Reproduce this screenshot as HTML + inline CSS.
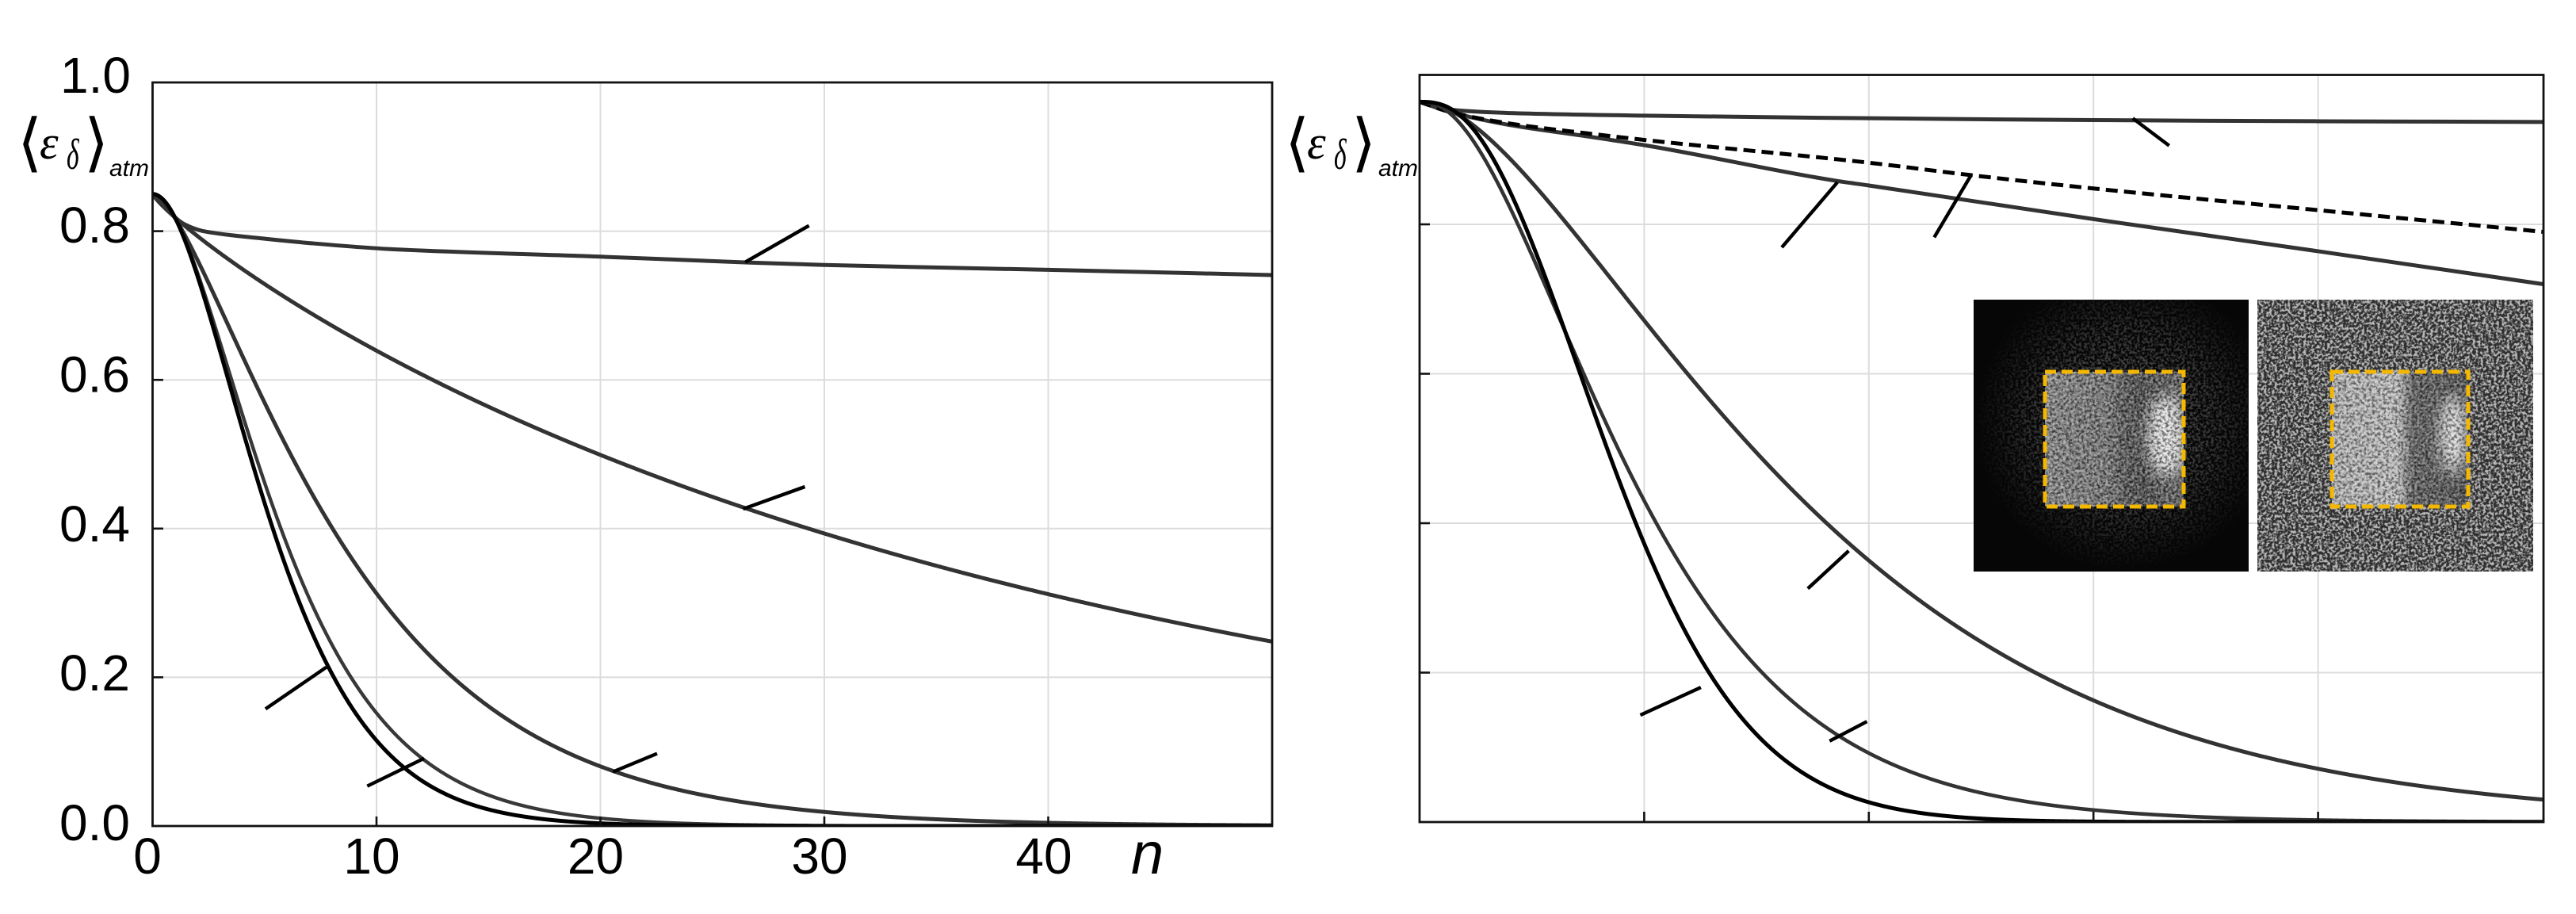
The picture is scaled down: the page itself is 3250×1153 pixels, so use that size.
<!DOCTYPE html>
<html><head><meta charset="utf-8">
<style>
html,body{margin:0;padding:0;background:#fff;}
svg{display:block;}
.tl{font-family:"Liberation Sans",Arial,sans-serif;font-size:64px;fill:#000;}
</style></head>
<body>
<svg id="s" width="3250" height="1153" viewBox="0 0 3250 1153" xmlns="http://www.w3.org/2000/svg">
<defs>
 <clipPath id="cl"><rect x="192.5" y="104" width="1412.5" height="938"/></clipPath>
 <clipPath id="cr"><rect x="1791" y="94.5" width="1418" height="942.5"/></clipPath>
 <filter id="wsp" x="0" y="0" width="1" height="1" color-interpolation-filters="sRGB">
  <feTurbulence type="fractalNoise" baseFrequency="0.3" numOctaves="2" seed="4"/>
  <feColorMatrix type="matrix" values="0 0 0 0 1  0 0 0 0 1  0 0 0 0 1  4.5 0 0 0 -1.9"/>
 </filter>
 <filter id="bsp" x="0" y="0" width="1" height="1" color-interpolation-filters="sRGB">
  <feTurbulence type="fractalNoise" baseFrequency="0.28" numOctaves="2" seed="11"/>
  <feColorMatrix type="matrix" values="0 0 0 0 0  0 0 0 0 0  0 0 0 0 0  4.5 0 0 0 -1.9"/>
 </filter>
 <filter id="blur" x="-1" y="-1" width="3" height="3"><feGaussianBlur stdDeviation="9"/></filter>
 <radialGradient id="haloG" cx="0.55" cy="0.45" r="0.55">
  <stop offset="0" stop-color="#fff" stop-opacity="1"/>
  <stop offset="0.6" stop-color="#888"/>
  <stop offset="1" stop-color="#000"/>
 </radialGradient>
 <mask id="mL"><rect x="2490" y="378" width="347" height="343" fill="url(#haloG)"/></mask>
 <linearGradient id="gLB" x1="0" x2="1" y1="0" y2="0">
  <stop offset="0" stop-color="#8c8c8c"/>
  <stop offset="0.45" stop-color="#7a7a7a"/>
  <stop offset="0.6" stop-color="#545454"/>
  <stop offset="0.72" stop-color="#4c4c4c"/>
  <stop offset="1" stop-color="#666"/>
 </linearGradient>
 <linearGradient id="gRB" x1="0" x2="1" y1="0" y2="0">
  <stop offset="0" stop-color="#b8b8b8"/>
  <stop offset="0.48" stop-color="#c2c2c2"/>
  <stop offset="0.6" stop-color="#5e5e5e"/>
  <stop offset="1" stop-color="#4e4e4e"/>
 </linearGradient>
 <clipPath id="cLB"><rect x="2580" y="469" width="175" height="170"/></clipPath>
 <clipPath id="cRB"><rect x="2942" y="469" width="172" height="170"/></clipPath>
</defs>
<rect width="3250" height="1153" fill="#fff"/>

<!-- LEFT GRID -->
<g stroke="#dcdcdc" stroke-width="2" fill="none">
 <line x1="475" y1="104" x2="475" y2="1042"/>
 <line x1="757.5" y1="104" x2="757.5" y2="1042"/>
 <line x1="1040" y1="104" x2="1040" y2="1042"/>
 <line x1="1322.5" y1="104" x2="1322.5" y2="1042"/>
 <line x1="192.5" y1="291.6" x2="1605" y2="291.6"/>
 <line x1="192.5" y1="479.2" x2="1605" y2="479.2"/>
 <line x1="192.5" y1="666.8" x2="1605" y2="666.8"/>
 <line x1="192.5" y1="854.4" x2="1605" y2="854.4"/>
</g>
<!-- RIGHT GRID -->
<g stroke="#dcdcdc" stroke-width="2" fill="none">
 <line x1="2074.4" y1="94.5" x2="2074.4" y2="1037"/>
 <line x1="2357.8" y1="94.5" x2="2357.8" y2="1037"/>
 <line x1="2641.2" y1="94.5" x2="2641.2" y2="1037"/>
 <line x1="2924.6" y1="94.5" x2="2924.6" y2="1037"/>
 <line x1="1791" y1="283" x2="3209" y2="283"/>
 <line x1="1791" y1="471.5" x2="3209" y2="471.5"/>
 <line x1="1791" y1="660" x2="3209" y2="660"/>
 <line x1="1791" y1="848.5" x2="3209" y2="848.5"/>
</g>

<!-- LEFT CURVES -->
<g clip-path="url(#cl)" fill="none" stroke-linejoin="round" stroke-linecap="round">
 <path id="cA" stroke="#333" stroke-width="5"/>
 <path id="cB" stroke="#333" stroke-width="5"/>
 <path id="cC" stroke="#333" stroke-width="5"/>
 <path id="cD" stroke="#383838" stroke-width="4.4"/>
 <path id="cE" stroke="#000" stroke-width="5"/>
</g>
<!-- RIGHT CURVES -->
<g clip-path="url(#cr)" fill="none" stroke-linejoin="round">
 <path id="r1" stroke="#333" stroke-width="5"/>
 <path id="r3" stroke="#333" stroke-width="5"/>
 <path id="r2" stroke="#000" stroke-width="5" stroke-dasharray="15 8"/>
 <path id="r4" stroke="#333" stroke-width="5"/>
 <path id="r5" stroke="#333" stroke-width="4.6"/>
 <path id="r6" stroke="#000" stroke-width="5"/>
</g>

<!-- LEADERS -->
<g stroke="#000" stroke-width="4.4" fill="none">
 <line x1="940.2" y1="330.7" x2="1020.7" y2="284.6"/>
 <line x1="937.6" y1="642" x2="1015.5" y2="614"/>
 <line x1="773.4" y1="973.6" x2="829" y2="950.6"/>
 <line x1="335" y1="894.3" x2="411.7" y2="841.7"/>
 <line x1="463.3" y1="991.7" x2="535" y2="956.7"/>

 <line x1="2690.8" y1="149.3" x2="2736.7" y2="183.8"/>
 <line x1="2248" y1="312.1" x2="2318.1" y2="230"/>
 <line x1="2440.3" y1="299.4" x2="2486.2" y2="222"/>
 <line x1="2280.8" y1="742.5" x2="2332.4" y2="694.9"/>
 <line x1="2308.3" y1="934.8" x2="2355.4" y2="910.2"/>
 <line x1="2069.5" y1="902.1" x2="2145.9" y2="867.1"/>
</g>

<!-- FRAMES -->
<rect x="192.5" y="104" width="1412.5" height="938" fill="none" stroke="#111" stroke-width="2.8"/>
<rect x="1791" y="94.5" width="1418" height="942.5" fill="none" stroke="#111" stroke-width="2.8"/>

<!-- TICKS -->
<g stroke="#111" stroke-width="2.6">
 <line x1="192.5" y1="291.6" x2="206" y2="291.6"/>
 <line x1="192.5" y1="479.2" x2="206" y2="479.2"/>
 <line x1="192.5" y1="666.8" x2="206" y2="666.8"/>
 <line x1="192.5" y1="854.4" x2="206" y2="854.4"/>
 <line x1="475" y1="1042" x2="475" y2="1030"/>
 <line x1="757.5" y1="1042" x2="757.5" y2="1030"/>
 <line x1="1040" y1="1042" x2="1040" y2="1030"/>
 <line x1="1322.5" y1="1042" x2="1322.5" y2="1030"/>

 <line x1="1791" y1="283" x2="1804" y2="283"/>
 <line x1="1791" y1="471.5" x2="1804" y2="471.5"/>
 <line x1="1791" y1="660" x2="1804" y2="660"/>
 <line x1="1791" y1="848.5" x2="1804" y2="848.5"/>
 <line x1="2074.4" y1="1037" x2="2074.4" y2="1024"/>
 <line x1="2357.8" y1="1037" x2="2357.8" y2="1024"/>
 <line x1="2641.2" y1="1037" x2="2641.2" y2="1024"/>
 <line x1="2924.6" y1="1037" x2="2924.6" y2="1024"/>
</g>

<!-- TICK LABELS LEFT -->
<g class="tl" text-anchor="end">
 <text x="165" y="117">1.0</text>
 <text x="164" y="306">0.8</text>
 <text x="164" y="494.5">0.6</text>
 <text x="164" y="683">0.4</text>
 <text x="164" y="871">0.2</text>
 <text x="164" y="1060">0.0</text>
</g>
<g class="tl" text-anchor="middle">
 <text x="186" y="1102">0</text>
 <text x="469" y="1102">10</text>
 <text x="751.5" y="1102">20</text>
 <text x="1034" y="1102">30</text>
 <text x="1317" y="1102">40</text>
</g>
<text x="1427" y="1102" font-family="Liberation Sans,Arial,sans-serif" font-style="italic" font-size="74">n</text>

<!-- Y LABEL LEFT -->
<g>
 <text x="22" y="207" font-family="DejaVu Sans,sans-serif" font-size="80">⟨</text>
 <text x="50" y="200" font-family="Liberation Serif,serif" font-style="italic" font-size="60">ε</text>
 <text transform="translate(84,213) scale(0.7,1.15)" font-family="Liberation Serif,serif" font-style="italic" font-size="48">δ</text>
 <text x="106" y="207" font-family="DejaVu Sans,sans-serif" font-size="80">⟩</text>
 <text x="138" y="222" font-family="Liberation Sans,Arial,sans-serif" font-style="italic" font-size="30">atm</text>
</g>
<!-- Y LABEL RIGHT -->
<g transform="translate(1599,0)">
 <text x="22" y="207" font-family="DejaVu Sans,sans-serif" font-size="80">⟨</text>
 <text x="50" y="200" font-family="Liberation Serif,serif" font-style="italic" font-size="60">ε</text>
 <text transform="translate(84,213) scale(0.7,1.15)" font-family="Liberation Serif,serif" font-style="italic" font-size="48">δ</text>
 <text x="106" y="207" font-family="DejaVu Sans,sans-serif" font-size="80">⟩</text>
 <text x="140" y="222" font-family="Liberation Sans,Arial,sans-serif" font-style="italic" font-size="30">atm</text>
</g>

<!-- INSET LEFT IMAGE -->
<g>
 <rect x="2490" y="378" width="347" height="343" fill="#060606"/>
 <rect x="2490" y="378" width="347" height="343" fill="#000" filter="url(#wsp)" mask="url(#mL)" opacity="0.35"/>
 <g clip-path="url(#cLB)">
  <rect x="2580" y="469" width="175" height="170" fill="url(#gLB)"/>
  <ellipse cx="2733" cy="550" rx="24" ry="52" fill="#e6e6e6" filter="url(#blur)"/>
  <rect x="2580" y="469" width="175" height="170" fill="#000" filter="url(#bsp)" opacity="0.55"/>
  <rect x="2580" y="469" width="175" height="170" fill="#000" filter="url(#wsp)" opacity="0.35"/>
 </g>
 <rect x="2580" y="469" width="175" height="170" fill="none" stroke="#f4b800" stroke-width="5" stroke-dasharray="14 7"/>
</g>
<!-- INSET RIGHT IMAGE -->
<g>
 <rect x="2848" y="378" width="348" height="343" fill="#2e2e2e"/>
 <rect x="2848" y="378" width="348" height="343" fill="#000" filter="url(#wsp)" opacity="0.65"/>
 <g clip-path="url(#cRB)">
  <rect x="2942" y="469" width="172" height="170" fill="url(#gRB)"/>
  <ellipse cx="3095" cy="548" rx="17" ry="50" fill="#e0e0e0" filter="url(#blur)"/>
  <rect x="2942" y="469" width="172" height="170" fill="#000" filter="url(#bsp)" opacity="0.5"/>
  <rect x="2942" y="469" width="172" height="170" fill="#000" filter="url(#wsp)" opacity="0.35"/>
 </g>
 <rect x="2942" y="469" width="172" height="170" fill="none" stroke="#f4b800" stroke-width="5" stroke-dasharray="14 7"/>
</g>
</svg>
<script>
function mono(P){
 var n=P.length,x=P.map(function(p){return p[0];}),y=P.map(function(p){return p[1];});
 var d=[],m=new Array(n),i;
 for(i=0;i<n-1;i++)d.push((y[i+1]-y[i])/(x[i+1]-x[i]));
 m[0]=d[0];m[n-1]=d[n-2];
 for(i=1;i<n-1;i++){
  if(d[i-1]*d[i]<=0)m[i]=0;
  else{var h0=x[i]-x[i-1],h1=x[i+1]-x[i],w1=2*h1+h0,w2=h1+2*h0;m[i]=(w1+w2)/(w1/d[i-1]+w2/d[i]);}
 }
 var s='M'+x[0].toFixed(2)+','+y[0].toFixed(2);
 for(i=0;i<n-1;i++){var h=x[i+1]-x[i];
  s+=' C'+(x[i]+h/3).toFixed(2)+','+(y[i]+m[i]*h/3).toFixed(2)+' '+(x[i+1]-h/3).toFixed(2)+','+(y[i+1]-m[i+1]*h/3).toFixed(2)+' '+x[i+1].toFixed(2)+','+y[i+1].toFixed(2);}
 return s;
}
function solve(A,b){
 var n=b.length,i,r,c;
 for(i=0;i<n;i++){
  var p=i;for(r=i+1;r<n;r++)if(Math.abs(A[r][i])>Math.abs(A[p][i]))p=r;
  var t=A[i];A[i]=A[p];A[p]=t;var tb=b[i];b[i]=b[p];b[p]=tb;
  for(r=i+1;r<n;r++){var f=A[r][i]/A[i][i];for(c=i;c<n;c++)A[r][c]-=f*A[i][c];b[r]-=f*b[i];}
 }
 var x=new Array(n);
 for(i=n-1;i>=0;i--){var s=b[i];for(c=i+1;c<n;c++)s-=A[i][c]*x[c];x[i]=s/A[i][i];}
 return x;
}
/* fit ln(-ln(v/v0)) = poly(ln x) */
function fit(pts,v0,deg){
 var T=[],G=[];
 pts.forEach(function(p){if(p[0]>0&&p[1]>=0.005&&p[1]<v0){T.push(Math.log(p[0]));G.push(Math.log(-Math.log(p[1]/v0)));}});
 var k=deg+1,A=[],b=[],i,r,c;
 for(r=0;r<k;r++){A.push(new Array(k).fill(0));b.push(0);}
 for(i=0;i<T.length;i++){for(r=0;r<k;r++){for(c=0;c<k;c++)A[r][c]+=Math.pow(T[i],r+c);b[r]+=G[i]*Math.pow(T[i],r);}}
 var co=solve(A,b);
 var tmin=Math.min.apply(null,T),tmax=Math.max.apply(null,T);
 function g(t){var s=0;for(var j=0;j<k;j++)s+=co[j]*Math.pow(t,j);return s;}
 function gp(t){var s=0;for(var j=1;j<k;j++)s+=j*co[j]*Math.pow(t,j-1);return s;}
 var gmin=g(tmin),smin=gp(tmin),gmax=g(tmax),smax=gp(tmax);
 return function(x){
  if(x<=0)return v0;
  var t=Math.log(x),gg;
  if(t<tmin)gg=gmin+smin*(t-tmin);
  else if(t>tmax)gg=gmax+Math.max(smax,0.3)*(t-tmax);
  else gg=g(t);
  return v0*Math.exp(-Math.exp(gg));
 };
}
function fpath(f,x0,sx,y0,sy,xmax){
 var step=0.5/sx,s='M'+x0.toFixed(1)+','+(y0-sy*f(0)).toFixed(2);
 for(var x=step;x<=xmax+1e-9;x+=step){s+=' L'+(x0+sx*x).toFixed(1)+','+(y0-sy*f(x)).toFixed(2);}
 return s;
}
function LP(pts){return mono(pts.map(function(p){return[192.5+28.25*p[0],1042-938*p[1]];}));}
function RP(pts){return mono(pts.map(function(p){return[1791+283.4*p[0],1037-942.5*p[1]];}));}
function LF(pts,deg){return fpath(fit(pts,0.85,deg),192.5,28.25,1042,938,50.2);}
function RF(pts,deg){return fpath(fit(pts,0.964,deg),1791,283.4,1037,942.5,5.02);}
function set(id,d){document.getElementById(id).setAttribute('d',d);}

set('cA',LP([[0,.85],[0.5,.836],[0.97,.8195],[1.44,.809],[2.27,.80],[4.63,.791],[6.99,.784],[10.53,.776],[20,.7657],[26.45,.758],[30,.7545],[40,.748],[50,.741]]));
set('cB',LF([[0.97,.8195],[2.27,.784],[4.63,.741],[6.99,.699],[10,.6405],[10.53,.629],[14,.57],[20,.4936],[26.35,.425],[30,.389],[40,.307],[45,.278],[45,.278],[50,.2525],[50,.2525],[50,.2525]],2));
set('cC',LF([[0.97,.8195],[1.21,.808],[2.27,.738],[3.45,.667],[4.63,.599],[5.69,.539],[7.11,.4446],[7.81,.399],[8.76,.3565],[9.98,.3132],[11.36,.2688],[13.13,.2138],[14.9,.1712],[17.96,.1126],[20.56,.073],[24,.042],[27.8,.0256],[32,.0136]],2));
set('cD',LF([[0.97,.8195],[1.4,.795],[1.75,.765],[2.35,.713],[2.95,.656],[3.6,.6],[4.3,.535],[5.28,.4446],[5.87,.398],[6.52,.335],[7.17,.274],[8.52,.2],[10.88,.116],[12.06,.091],[14.9,.043],[17.26,.0235],[20,.012]],2));
set('cE',LF([[0.97,.8195],[1.33,.798],[1.68,.766],[2.27,.713],[2.86,.656],[3.45,.6],[4.1,.538],[4.93,.4446],[5.4,.398],[6.05,.327],[6.64,.282],[7.76,.2135],[8.41,.18],[9.98,.116],[11.36,.0768],[13.13,.043],[14.9,.0235],[17.96,.0082]],2));

set('r1',RP([[0,.964],[0.15,.953],[0.4,.949],[1,.9455],[2,.942],[3,.9395],[4,.938],[5,.937]]));
set('r2',RP([[0,.964],[0.14,.950],[0.4,.935],[0.74,.922],[1,.913],[2,.8825],[2.45,.866],[3,.848],[4,.819],[5,.79]]));
set('r3',RP([[0,.964],[0.14,.95],[0.4,.933],[0.74,.918],[1,.906],[1.86,.858],[2,.852],[3,.807],[4,.764],[5,.72]]));
set('r4',RF([[0.1,.958],[0.2,.94],[0.385,.885],[0.737,.793],[1,.70],[1.256,.60],[1.45,.51],[1.65,.435],[1.915,.363],[2,.34],[2.43,.236],[2.7,.19],[3,.148],[3.5,.095],[4,.0625],[4,.0625],[4.5,.047],[4.5,.047],[5,.0375],[5,.0375],[5,.0375]],2));
set('r5',RF([[0.1,.955],[0.2,.93],[0.3,.89],[0.385,.85],[0.5,.78],[0.713,.611],[0.85,.5],[1.05,.38],[1.25,.27],[1.45,.19],[1.7,.125],[2,.078],[2.5,.04],[3,.02],[4,.006]],2));
set('r6',RF([[0.149,.951],[0.267,.92],[0.385,.874],[0.502,.81],[0.59,.715],[0.673,.612],[0.78,.51],[0.9,.41],[1.05,.30],[1.2,.215],[1.28,.176],[1.44,.125],[1.64,.084],[1.8,.058],[2,.032],[2.5,.008]],2));
</script>
</body></html>
